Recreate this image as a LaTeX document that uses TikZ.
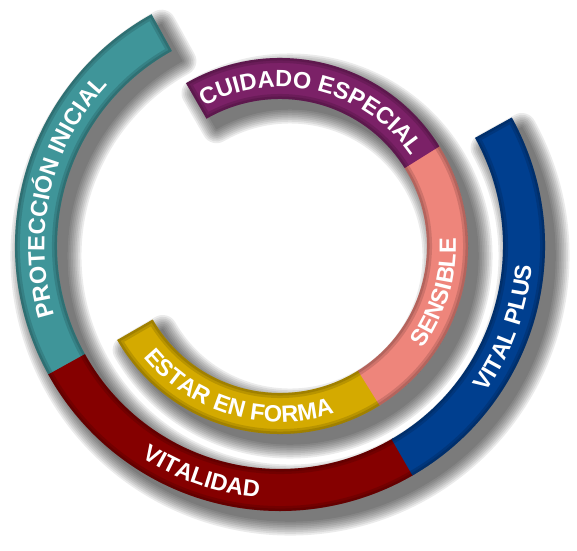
\documentclass[tikz,border=0pt]{standalone}
\usepackage{fontspec}
\newfontfamily\bandfont{Liberation Sans Bold}
\usetikzlibrary{decorations.text}
\definecolor{cteal}{HTML}{3F9599}
\definecolor{cred}{HTML}{850000}
\definecolor{cblue}{HTML}{003F8F}
\definecolor{cpurple}{HTML}{7B2167}
\definecolor{csalmon}{HTML}{EE857B}
\definecolor{cgold}{HTML}{D4AA00}
\tikzset{
  sector/.style n args={4}{insert path={(#1:#4pt) arc[start angle=#1,end angle=#2,radius=#4pt] -- (#2:#3pt) arc[start angle=#2,end angle=#1,radius=#3pt] -- cycle}},
  bandtext/.style={decorate, decoration={text along path, text align=center,
    text={|\bandfont\fontsize{23.5}{23.5}\selectfont\color{white}|#1}}},
  rim/.style={draw=black, opacity=0.13, line width=#1},
}
\begin{document}
\begin{tikzpicture}
\useasboundingbox (0,0) rectangle (577pt,550pt);
\begin{scope}[shift={(280pt,304pt)}]
  % soft shadows
  \begin{scope}[shift={(10pt,-10pt)}]
    \foreach \w in {1,4.5,...,32} {
      \begin{scope}[transparency group, opacity=0.08]
        \path[fill=black, draw=black, line width=\w pt, line join=round, sector={119}{389}{223}{265}];
      \end{scope}
      \begin{scope}[transparency group, opacity=0.08]
        \path[fill=black, draw=black, line width=\w pt, line join=round, sector={-150}{120}{147}{188}];
      \end{scope}
    }
  \end{scope}
  % outer ring
  \path[fill=cteal, sector={119}{209.5}{223}{265}];
  \path[fill=cred, sector={209}{300.5}{223}{265}];
  \path[fill=cblue, sector={300}{389}{223}{265}];
  \begin{scope}
    \clip[sector={119}{389}{223}{265}];
    \path[rim=10pt, sector={119}{389}{223}{265}];
    \path[rim=5pt, sector={119}{389}{223}{265}];
  \end{scope}
  % inner ring
  \path[fill=cgold, sector={-150}{-57.5}{147}{188}];
  \path[fill=csalmon, sector={-58}{32.5}{147}{188}];
  \path[fill=cpurple, sector={32}{120}{147}{188}];
  \begin{scope}
    \clip[sector={-150}{120}{147}{188}];
    \path[rim=10pt, sector={-150}{120}{147}{188}];
    \path[rim=5pt, sector={-150}{120}{147}{188}];
  \end{scope}
  % labels
  \path[bandtext={PROTECCIÓN INICIAL}] (212:235.6pt) arc[start angle=212,end angle=122,radius=235.6pt];
  \path[bandtext={VITALIDAD}] (206:252.4pt) arc[start angle=206,end angle=296,radius=252.4pt];
  \path[bandtext={VITAL PLUS}] (-65:252.4pt) arc[start angle=-65,end angle=25,radius=252.4pt];
  \path[bandtext={CUIDADO ESPECIAL}] (131.5:159.1pt) arc[start angle=131.5,end angle=21.5,radius=159.1pt];
  \path[bandtext={SENSIBLE}] (-61.6:175.9pt) arc[start angle=-61.6,end angle=28.4,radius=175.9pt];
  \path[bandtext={ESTAR EN FORMA}] (208.6:175.9pt) arc[start angle=208.6,end angle=298.6,radius=175.9pt];
\end{scope}
\end{tikzpicture}
\end{document}
